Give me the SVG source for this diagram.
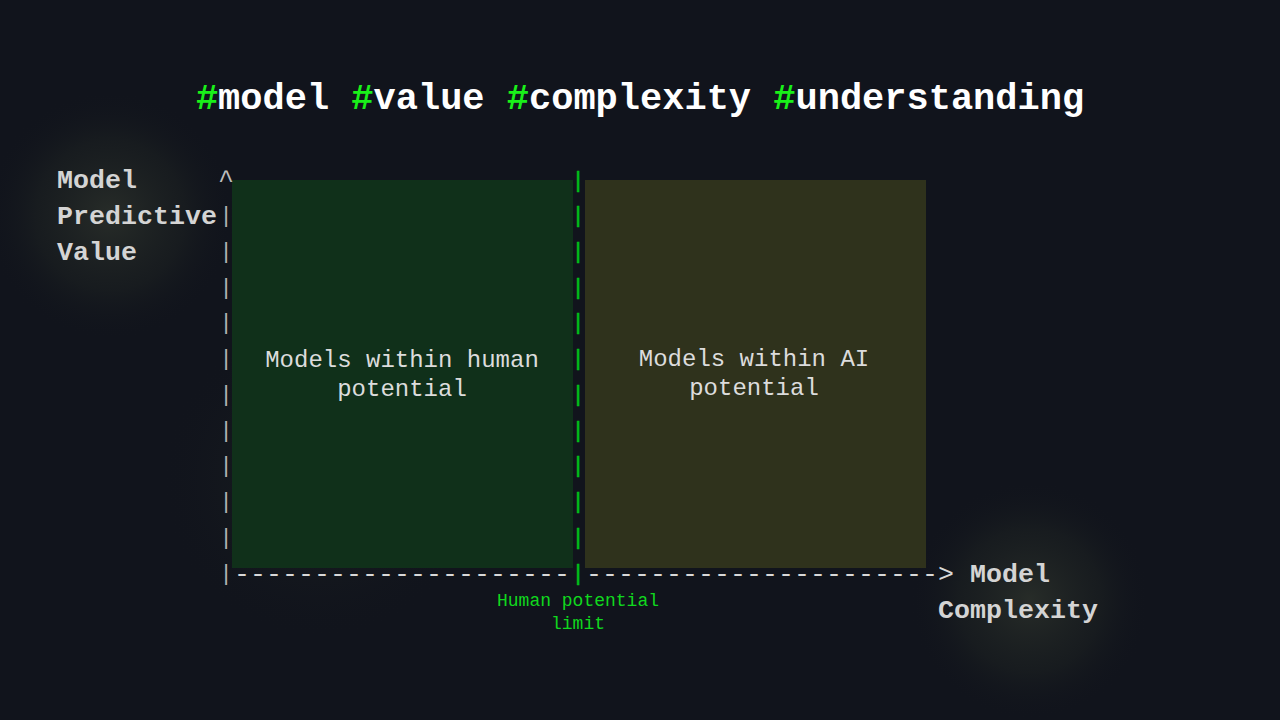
<svg xmlns="http://www.w3.org/2000/svg" width="1280" height="720" viewBox="0 0 1280 720">
  <defs>
    <radialGradient id="glow" cx="0.5" cy="0.5" r="0.5">
      <stop offset="0" stop-color="#2a2f2a" stop-opacity="0.9"/>
      <stop offset="0.6" stop-color="#1e2322" stop-opacity="0.5"/>
      <stop offset="1" stop-color="#11141c" stop-opacity="0"/>
    </radialGradient>
    <style>
      .lbl { font-family: "Liberation Mono", "Courier New", monospace; font-weight: bold; font-size: 26.67px; fill: #d4d4d4; }
      .caret { font-family: "Liberation Mono", "Courier New", monospace; font-size: 26.67px; fill: #bdbdbd; text-anchor: middle; }
      .axis { font-family: "Liberation Mono", "Courier New", monospace; font-size: 22px; fill: #b4b4b4; text-anchor: middle; }
      .limit { font-family: "Liberation Mono", "Courier New", monospace; font-size: 22px; fill: #00c21a; stroke: #00c21a; stroke-width: 0.6; text-anchor: middle; }
      .dash { font-family: "Liberation Mono", "Courier New", monospace; font-size: 26.67px; fill: #d8d8d8; }
      .inner { font-family: "Liberation Mono", "Courier New", monospace; font-size: 24px; fill: #dcdcdc; text-anchor: middle; }
      .note { font-family: "Liberation Mono", "Courier New", monospace; font-size: 18px; fill: #10d81e; text-anchor: middle; }
      .title { font-family: "Liberation Mono", "Courier New", monospace; font-size: 37px; font-weight: bold; fill: #ffffff; text-anchor: middle; }
      .hash { fill: #19f019; }
    </style>
  </defs>
  <rect width="1280" height="720" fill="#11141c"/>
  <circle cx="110" cy="215" r="125" fill="url(#glow)"/>
  <circle cx="1030" cy="600" r="120" fill="url(#glow)"/>
  <circle cx="320" cy="480" r="160" fill="url(#glow)" opacity="0.35"/>

  <g id="title">
    <text class="title" x="640" y="109"><tspan class="hash">#</tspan>model <tspan class="hash">#</tspan>value <tspan class="hash">#</tspan>complexity <tspan class="hash">#</tspan>understanding</text>
  </g>

  <g id="human-region">
    <rect x="232" y="180" width="341" height="388" fill="#10301a"/>
    <text class="inner" x="402" y="367">Models within human</text>
    <text class="inner" x="402" y="396">potential</text>
  </g>

  <g id="ai-region">
    <rect x="585" y="180" width="341" height="388" fill="#2f321c"/>
    <text class="inner" x="754" y="366">Models within AI</text>
    <text class="inner" x="754" y="395">potential</text>
  </g>

  <g id="y-label">
    <text class="lbl" x="57" y="188">Model</text>
    <text class="lbl" x="57" y="224">Predictive</text>
    <text class="lbl" x="57" y="260">Value</text>
  </g>

  <g id="x-label">
    <text class="lbl" x="970" y="582">Model</text>
    <text class="lbl" x="938" y="618">Complexity</text>
  </g>

  <g id="connectors">
    <g id="y-axis">
      <text class="caret" x="226" y="188">^</text>
      <text class="axis" x="226" y="222">|</text>
      <text class="axis" x="226" y="258">|</text>
      <text class="axis" x="226" y="294">|</text>
      <text class="axis" x="226" y="329">|</text>
      <text class="axis" x="226" y="365">|</text>
      <text class="axis" x="226" y="401">|</text>
      <text class="axis" x="226" y="437">|</text>
      <text class="axis" x="226" y="472">|</text>
      <text class="axis" x="226" y="508">|</text>
      <text class="axis" x="226" y="544">|</text>
      <text class="axis" x="226" y="580">|</text>
    </g>
    <g id="x-axis">
      <text class="dash" x="234" y="582">---------------------</text>
      <text class="dash" x="586" y="582">----------------------&gt;</text>
    </g>
    <g id="limit-line">
      <text class="limit" x="578" y="187">|</text>
      <text class="limit" x="578" y="222">|</text>
      <text class="limit" x="578" y="258">|</text>
      <text class="limit" x="578" y="294">|</text>
      <text class="limit" x="578" y="329">|</text>
      <text class="limit" x="578" y="365">|</text>
      <text class="limit" x="578" y="401">|</text>
      <text class="limit" x="578" y="437">|</text>
      <text class="limit" x="578" y="472">|</text>
      <text class="limit" x="578" y="508">|</text>
      <text class="limit" x="578" y="544">|</text>
      <text class="limit" x="578" y="580">|</text>
    </g>
  </g>

  <g id="limit-label">
    <text class="note" x="578" y="606">Human potential</text>
    <text class="note" x="578" y="629">limit</text>
  </g>
</svg>
